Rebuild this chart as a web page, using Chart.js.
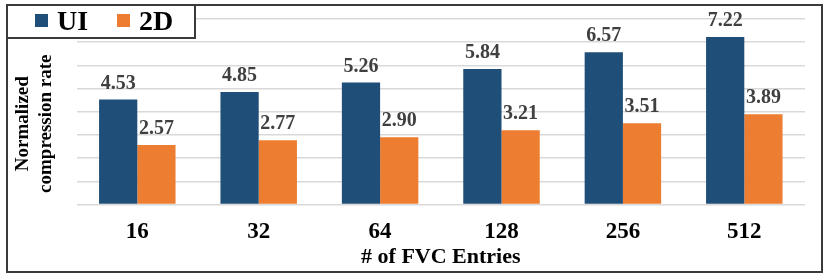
<!DOCTYPE html>
<html>
<head>
<meta charset="utf-8">
<script src="https://cdn.jsdelivr.net/npm/chart.js@4.4.1/dist/chart.umd.min.js"></script>
<style>
html,body{margin:0;padding:0;background:#fff;}
#wrap{width:830px;height:280px;position:relative;}
</style>
</head>
<body>
<div id="wrap"><canvas id="c" width="830" height="280"></canvas></div>
<script>
const categories = ["16", "32", "64", "128", "256", "512"];
const seriesNames = ["UI", "2D"];
const uiValues = [4.53, 4.85, 5.26, 5.84, 6.57, 7.22];
const twoDValues = [2.57, 2.77, 2.90, 3.21, 3.51, 3.89];
const yTitle = ["Normalized     ", "compression rate     "];
const xTitle = "# of FVC Entries";

const FONT = "'Liberation Serif', 'Times New Roman', serif";

const labelPlugin = {
  id: 'valueLabels',
  afterDatasetsDraw(chart) {
    const ctx = chart.ctx;
    ctx.save();
    ctx.font = "bold 20px " + FONT;
    ctx.fillStyle = "#404040";
    ctx.textAlign = "center";
    ctx.textBaseline = "alphabetic";
    chart.data.datasets.forEach((ds, di) => {
      const meta = chart.getDatasetMeta(di);
      meta.data.forEach((bar, i) => {
        ctx.fillText(ds.data[i].toFixed(2), bar.x, bar.y - 11);
      });
    });
    ctx.restore();
  }
};

const framePlugin = {
  id: 'frameLegend',
  afterDraw(chart) {
    const ctx = chart.ctx;
    ctx.save();
    ctx.strokeStyle = "#3a3a3a";
    ctx.lineWidth = 2;
    ctx.strokeRect(7, 5, 815, 267);
    ctx.fillStyle = "#ffffff";
    ctx.fillRect(7, 5, 188, 33);
    ctx.strokeRect(7, 5, 188, 33);
    ctx.font = "bold 28px " + FONT;
    ctx.textBaseline = "alphabetic";
    ctx.textAlign = "left";
    const items = chart.data.datasets;
    const xs = [35, 117];
    items.forEach((ds, i) => {
      ctx.fillStyle = ds.backgroundColor;
      ctx.fillRect(xs[i], 14, 13, 13);
      ctx.fillStyle = "#000000";
      ctx.fillText(ds.label, xs[i] + 22, 30);
    });
    ctx.restore();
  }
};

new Chart(document.getElementById('c'), {
  type: 'bar',
  data: {
    labels: categories,
    datasets: [
      { label: seriesNames[0], data: uiValues, backgroundColor: "#1F4E79" },
      { label: seriesNames[1], data: twoDValues, backgroundColor: "#ED7D31" }
    ]
  },
  options: {
    responsive: false,
    animation: false,
    devicePixelRatio: 1,
    layout: { padding: { left: 12, right: 25, top: 19, bottom: 9 } },
    plugins: {
      legend: { display: false },
      tooltip: { enabled: false }
    },
    datasets: { bar: { barPercentage: 1.0, categoryPercentage: 0.63 } },
    scales: {
      x: {
        grid: { display: false, drawTicks: false },
        border: { display: false },
        ticks: { color: "#000", font: { family: FONT, size: 23, weight: 'bold', lineHeight: 1.0 }, padding: 16 },
        title: { display: true, text: xTitle, color: "#000", font: { family: FONT, size: 22, weight: 'bold' }, padding: { top: -15, bottom: 0 } }
      },
      y: {
        min: 0, max: 8,
        ticks: { display: false, stepSize: 1 },
        grid: { color: "#d9d9d9", lineWidth: 1.5, drawTicks: false },
        border: { display: false },
        title: { display: true, text: yTitle, color: "#000", font: { family: FONT, size: 19, weight: 'bold', lineHeight: 1.2 }, padding: { top: 0, bottom: 19 } }
      }
    }
  },
  plugins: [labelPlugin, framePlugin]
});
</script>
</body>
</html>
